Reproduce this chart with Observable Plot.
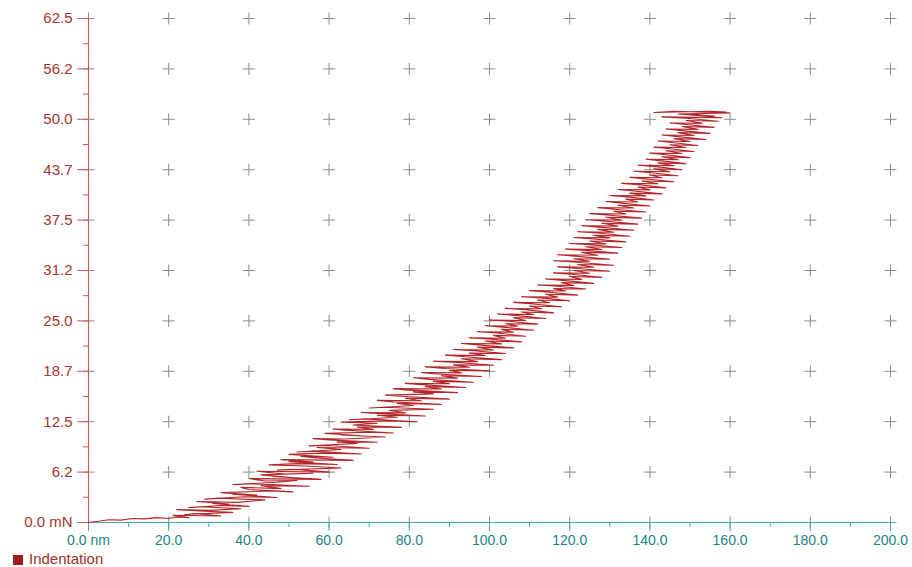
<!DOCTYPE html>
<html>
<head>
<meta charset="utf-8">
<script src="https://cdn.jsdelivr.net/npm/d3@7"></script>
<script src="https://cdn.jsdelivr.net/npm/@observablehq/plot@0.6"></script>
<style>
  html, body { margin: 0; padding: 0; background: #fff; overflow: hidden; }
  #wrap { position: relative; width: 912px; height: 567px; font-family: "Liberation Sans", Arial, sans-serif; }
  #legend { position: absolute; left: 13px; top: 551px; display: flex; align-items: center; font-size: 15px; color: #a0302a; line-height: 15px; }
  #legend .sw { width: 10px; height: 10px; background: #9e1f1f; margin-right: 6px; margin-top: 3px; }
</style>
</head>
<body>
<div id="wrap"><div id="chart"></div><div id="legend"><span class="sw"></span><span id="legendText"></span></div></div>
<script>
// ---- data: [depth nm, load mN] ----
const seriesName = "Indentation";
const indentationCurve = [
  [0,0],[2.5,0.15],[5,0.35],[8,0.3],[11,0.5],[14,0.45],[17,0.6],[20,0.5],[22,0.7],[25,0.6],
  [21,0.9],[33,0.8],[27,1.1],[24,1.0],[36,1.25],[29,1.4],[22,1.6],[30,1.5],[38,1.7],[28,1.95],
  [25,1.85],[33,2.1],[40,2.0],[31,2.35],[35,2.3],[27,2.6],[37,2.5],[44,2.8],[32,3.0],[29,2.9],
  [39,3.2],[47,3.1],[36,3.5],[42,3.4],[33,3.7],[45,3.9],[51,3.8],[40,4.1],[38,4.35],[48,4.2],
  [43,4.55],[55,4.5],[41,4.8],[36,4.7],[47,5.0],[52,5.2],[44,5.15],[40,5.45],[58,5.35],[46,5.7],
  [50,5.6],[43,5.9],[56,6.1],[49,6.0],[42,6.35],[60,6.25],[51,6.6],[47,6.5],[63,6.75],[54,7.0],
  [45,7.15],[52,7.3],[62,7.2],[50,7.55],[56,7.5],[48,7.8],[66,7.7],[57,8.0],[53,8.2],[61,8.1],
  [50,8.45],[58,8.6],[68,8.5],[56,8.85],[52,8.75],[63,9.05],[57,9.3],[70,9.2],[60,9.55],[55,9.5],
  [67,9.8],[62,10.0],[72,9.95],[60,10.25],[56,10.4],[64,10.35],[74,10.6],[63,10.85],[68,10.75],[59,11.05],
  [70,11.2],[76,11.1],[64,11.45],[61,11.6],[71,11.55],[67,11.85],[78,11.8],[66,12.1],[72,12.3],[63,12.45],
  [75,12.6],[82,12.5],[69,12.85],[65,12.75],[77,13.05],[72,13.3],[84,13.2],[73,13.5],[68,13.65],[79,13.6],
  [75,13.9],[86,14.05],[74,14.3],[70,14.2],[81,14.5],[77,14.75],[88,14.65],[76,14.95],[72,15.15],[83,15.1],
  [79,15.4],[90,15.3],[78,15.65],[74,15.8],[86,15.95],[81,16.2],[92,16.1],[79,16.45],[76,16.6],[88,16.55],
  [84,16.85],[94,16.75],[83,17.1],[79,17.25],[90,17.2],[86,17.5],[96,17.4],[85,17.75],[81,17.95],[92,17.9],
  [88,18.2],[98,18.1],[86,18.45],[83,18.6],[93,18.55],[90,18.85],[100,18.8],[89,19.1],[84,19.3],[95,19.25],
  [91,19.55],[101,19.5],[92,19.85],[86,20.0],[97,19.95],[93,20.3],[103,20.2],[94,20.55],[89,20.75],[99,20.7],
  [95,21.0],[104,20.95],[96,21.3],[91,21.45],[101,21.4],[97,21.75],[106,21.65],[98,22.0],[93,22.2],[103,22.15],
  [99,22.5],[108,22.4],[100,22.75],[95,22.9],[104,22.85],[101,23.2],[109,23.1],[102,23.5],[97,23.65],[106,23.6],
  [103,23.95],[111,23.85],[104,24.2],[99,24.4],[107,24.35],[104,24.65],[112,24.6],[105,24.95],[100,25.1],[109,25.05],
  [106,25.4],[114,25.3],[107,25.65],[102,25.85],[111,25.8],[108,26.1],[116,26.0],[109,26.4],[104,26.55],[113,26.5],
  [110,26.85],[118,26.75],[111,27.1],[106,27.3],[115,27.25],[112,27.6],[120,27.5],[113,27.85],[108,28.0],[117,27.95],
  [114,28.3],[122,28.2],[115,28.55],[110,28.75],[119,28.7],[116,29.0],[124,28.95],[117,29.3],[112,29.45],[121,29.4],
  [118,29.75],[126,29.65],[119,30.0],[114,30.2],[123,30.15],[120,30.5],[128,30.4],[121,30.75],[116,30.95],[125,30.9],
  [121,31.25],[130,31.15],[122,31.5],[117,31.7],[126,31.65],[122,32.0],[131,31.9],[121,32.3],[116,32.45],[125,32.4],
  [121,32.7],[130,32.65],[122,33.0],[117,33.2],[127,33.15],[123,33.5],[132,33.4],[124,33.75],[119,33.9],[128,33.85],
  [124,34.2],[133,34.1],[125,34.45],[120,34.6],[129,34.55],[125,34.9],[134,34.8],[126,35.15],[121,35.35],[130,35.3],
  [126,35.6],[135,35.5],[127,35.9],[122,36.05],[131,36.0],[127,36.35],[136,36.25],[128,36.6],[123,36.8],[132,36.75],
  [128,37.1],[137,37.0],[129,37.35],[124,37.55],[133,37.5],[129,37.85],[138,37.75],[130,38.1],[125,38.3],[134,38.25],
  [131,38.6],[139,38.5],[131,38.85],[127,39.05],[136,39.0],[132,39.35],[140,39.25],[133,39.6],[129,39.8],[137,39.75],
  [134,40.1],[141,40.0],[135,40.35],[130,40.55],[139,40.5],[135,40.85],[143,40.75],[136,41.1],[132,41.3],[140,41.25],
  [137,41.6],[144,41.5],[138,41.85],[133,42.05],[142,42.0],[138,42.35],[146,42.25],[139,42.6],[135,42.8],[143,42.75],
  [140,43.1],[147,43.0],[141,43.35],[136,43.55],[145,43.5],[141,43.85],[148,43.75],[142,44.1],[137,44.3],[146,44.25],
  [142,44.6],[149,44.5],[143,44.85],[139,45.05],[147,45.0],[143,45.35],[150,45.25],[144,45.6],[140,45.8],[148,45.75],
  [144,46.1],[151,46.0],[145,46.35],[141,46.55],[149,46.5],[145,46.85],[152,46.75],[146,47.1],[142,47.3],[150,47.25],
  [146,47.6],[154,47.5],[147,47.85],[143,48.05],[151,48.0],[147,48.35],[155,48.25],[148,48.6],[144,48.8],[152,48.75],
  [148,49.1],[156,49.0],[149,49.35],[145,49.55],[153,49.5],[149,49.85],[157,49.75],[150,50.1],[143,50.3],[158,50.2],
  [151,50.5],[147,50.65],[160,50.8],[152,50.9],[146,51.0],[141,50.85],[155,51.0],[159,50.9],[150,50.6],[156,50.4]
];
const xMajorTicks = [0, 20, 40, 60, 80, 100, 120, 140, 160, 180, 200];
const xMinorTicks = [10, 30, 50, 70, 90, 110, 130, 150, 170, 190];
const yMajorTicks = [0, 6.25, 12.5, 18.75, 25, 31.25, 37.5, 43.75, 50, 56.25, 62.5];
const yMinorTicks = [3.125, 9.375, 15.625, 21.875, 28.125, 34.375, 40.625, 46.875, 53.125, 59.375];
const xUnit = "nm";
const yUnit = "mN";

// ---- build ----
const data = indentationCurve.map(([d, l]) => ({depth: d, load: l}));
const gridPts = [];
for (const gx of xMajorTicks) for (const gy of yMajorTicks) gridPts.push({gx, gy});

const plusSymbol = {
  draw(ctx, size) {
    const h = Math.sqrt(size / Math.PI);
    ctx.moveTo(-h, 0); ctx.lineTo(h, 0);
    ctx.moveTo(0, -h); ctx.lineTo(0, h);
  }
};

const redText = "rgb(168,52,44)";
const redAxis = "rgb(205,90,90)";
const tealText = "rgb(28,132,132)";
const tealAxis = "rgb(70,170,170)";
const fmtY = d => d === 0 ? "0.0 " + yUnit : (Math.floor(d * 10 + 1e-9) / 10).toFixed(1);
const fmtX = d => d === 0 ? "0.0 " + xUnit : d.toFixed(1);

const chart = Plot.plot({
  width: 912,
  height: 548,
  marginLeft: 88,
  marginRight: 22,
  marginTop: 18,
  marginBottom: 26,
  style: {fontFamily: "'Liberation Sans', Arial, sans-serif", background: "#fff", overflow: "visible"},
  x: {domain: [0, 200], label: null},
  y: {domain: [0, 62.5], label: null},
  marks: [
    Plot.dot(gridPts, {x: "gx", y: "gy", symbol: plusSymbol, r: 6, stroke: "#8c8c8c", fill: "none", strokeWidth: 1}),
    Plot.ruleX([0], {stroke: redAxis, strokeWidth: 1.2}),
    Plot.ruleY([0], {stroke: tealAxis, strokeWidth: 1.2}),
    Plot.axisY(yMajorTicks, {anchor: "left", tickSize: 11, tickPadding: 5, tickFormat: fmtY, stroke: redAxis, fill: redText, fontSize: 15, label: null}),
    Plot.axisY(yMinorTicks, {anchor: "left", tickSize: 5, text: null, stroke: redAxis, label: null}),
    Plot.axisX(xMajorTicks, {anchor: "bottom", tickSize: 9, tickPadding: 4, tickFormat: fmtX, stroke: tealAxis, fill: tealText, fontSize: 14, label: null}),
    Plot.axisX(xMinorTicks, {anchor: "bottom", tickSize: 5, text: null, stroke: tealAxis, label: null}),
    Plot.line(data, {x: "depth", y: "load", stroke: "#b3262a", strokeWidth: 1.1, curve: "linear"})
  ]
});
document.getElementById("chart").appendChild(chart);
document.getElementById("legendText").textContent = seriesName;
</script>
</body>
</html>
